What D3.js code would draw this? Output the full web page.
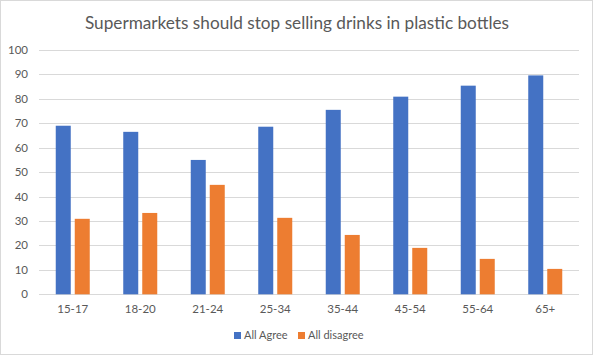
<!DOCTYPE html>
<html><head><meta charset="utf-8">
<script src="https://cdn.jsdelivr.net/npm/d3@7"></script>
<style>body{margin:0;background:#fff}svg{display:block}text{font-family:Lato,"Open Sans",sans-serif}</style>
</head><body><svg id="c" width="594" height="356"></svg>
<script>
const categories = ["15-17","18-20","21-24","25-34","35-44","45-54","55-64","65+"];
const agree = [69, 66.5, 55, 68.6, 75.5, 80.9, 85.4, 89.6];
const disagree = [30.9, 33.3, 44.8, 31.3, 24.3, 19.0, 14.5, 10.4];
const seriesNames = ["All Agree","All disagree"];
const colors = ["#4472c4","#ed7d31"];
const yTicks = [0,10,20,30,40,50,60,70,80,90,100];
const title = "Supermarkets should stop selling drinks in plastic bottles";

const svg = d3.select("#c");
svg.append("rect").attr("x",0.5).attr("y",0.5).attr("width",592).attr("height",354)
  .attr("fill","#fff").attr("stroke","#d9d9d9");

const m = {l:39, r:579, t:50, b:294.3};
const x = d3.scaleBand().domain(categories).range([m.l,m.r]);
const y = d3.scaleLinear().domain([0,100]).range([m.b,m.t]);

svg.append("g").selectAll("line").data(yTicks).join("line")
  .attr("x1",m.l).attr("x2",m.r).attr("y1",d=>Math.round(y(d))+0.5).attr("y2",d=>Math.round(y(d))+0.5)
  .attr("stroke","#d9d9d9").attr("stroke-width",1);

svg.append("g").selectAll("text").data(yTicks).join("text")
  .attr("x",28).attr("y",d=>y(d)).attr("dy","0.35em").attr("text-anchor","end")
  .attr("font-size",11.5).attr("fill","#595959").text(d=>d);

const bw = 15, gap = 4;
const data = [agree, disagree];
data.forEach((vals,si)=>{
  svg.append("g").selectAll("rect").data(vals).join("rect")
    .attr("x",(d,i)=>x(categories[i]) + x.bandwidth()/2 + (si===0 ? -gap/2-bw : gap/2))
    .attr("width",bw)
    .attr("y",d=>y(d)).attr("height",d=>y(0)-y(d))
    .attr("fill",colors[si]);
});

svg.append("g").selectAll("text").data(categories).join("text")
  .attr("x",d=>x(d)+x.bandwidth()/2).attr("y",309).attr("dy","0.35em").attr("text-anchor","middle")
  .attr("font-size",11.5).attr("fill","#595959").text(d=>d);

svg.append("text").attr("x",297).attr("y",29).attr("text-anchor","middle")
  .attr("font-size",17.2).attr("fill","#595959").text(title);

const lg = svg.append("g");
const lx = [234, 298];
seriesNames.forEach((n,i)=>{
  lg.append("rect").attr("x",lx[i]).attr("y",332).attr("width",7).attr("height",7).attr("fill",colors[i]);
  lg.append("text").attr("x",lx[i]+10).attr("y",335.5).attr("dy","0.35em").attr("font-size",11)
    .attr("fill","#595959").text(n);
});
</script></body></html>
